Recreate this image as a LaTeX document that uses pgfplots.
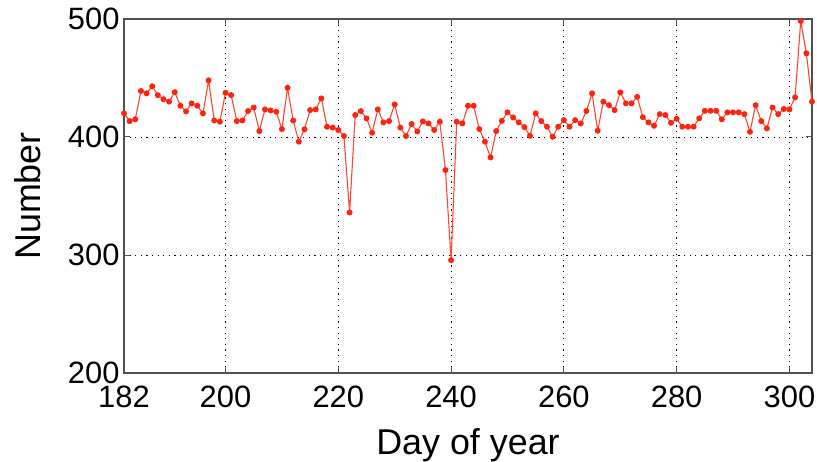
\documentclass[border=0pt]{standalone}
\usepackage{pgfplots}
\pgfplotsset{compat=1.18}
\usepackage{fontspec}
\setmainfont{Liberation Sans}
\definecolor{lred}{RGB}{255,70,50}
\definecolor{mred}{RGB}{255,35,15}
\definecolor{axgray}{RGB}{80,80,80}
\begin{document}
\begin{tikzpicture}
\begin{axis}[
  scale only axis, width=688bp, height=354bp,
  xmin=182, xmax=304, ymin=200, ymax=500,
  xtick={182,200,220,240,260,280,300},
  ytick={200,300,400,500},
  grid=major,
  major grid style={black, line width=0.9bp, dash pattern=on 1.2bp off 4.4bp},
  tick align=inside, major tick length=6bp,
  tick style={axgray, line width=1bp},
  axis line style={axgray, line width=1.2bp},
  /pgf/number format/assume math mode=true,
  /pgf/number format/1000 sep={},
  ticklabel style={font=\fontsize{31}{31}\selectfont},
  label style={font=\fontsize{36}{36}\selectfont},
  xlabel={Day of year}, ylabel={Number},
  xticklabel style={yshift=-9bp},
  yticklabel style={xshift=-1bp},
  xlabel style={yshift=-14bp},
  ylabel style={yshift=20bp},
]
\addplot[lred, line width=1.1bp, mark=*, mark size=2.4bp, mark options={mred, fill=mred, draw=mred}] coordinates {
(182,420) (183,413.5) (184,415) (185,439) (186,437) (187,443) (188,435.5) (189,432)
(190,430) (191,438) (192,426.5) (193,421.7) (194,428.5) (195,426.5) (196,420) (197,448)
(198,414) (199,413) (200,437.5) (201,435.5) (202,413.5) (203,414) (204,422) (205,425)
(206,405) (207,423.4) (208,422.5) (209,421.4) (210,406.7) (211,441.7) (212,414) (213,396)
(214,406.5) (215,422.8) (216,423.4) (217,432.7) (218,408.7) (219,408) (220,405.9) (221,400.8)
(222,336) (223,418.6) (224,422) (225,415.8) (226,403.6) (227,423.4) (228,412.4) (229,413.5)
(230,427.6) (231,408) (232,400.8) (233,411) (234,404.7) (235,413.2) (236,411.5) (237,405.9)
(238,413) (239,372) (240,295.6) (241,413) (242,411.5) (243,426.5) (244,426.5) (245,406.7)
(246,396) (247,382.7) (248,405) (249,413.7) (250,420.9) (251,416.6) (252,412.4) (253,408.4)
(254,401) (255,420) (256,413.5) (257,408.7) (258,400.2) (259,408.7) (260,414.3) (261,408.7)
(262,414.3) (263,411.5) (264,422) (265,437) (266,405.3) (267,429.9) (268,427) (269,422.8)
(270,437.8) (271,428.5) (272,428.5) (273,434) (274,416.8) (275,412.4) (276,409.5) (277,419.4)
(278,418.6) (279,412) (280,415.4) (281,408.7) (282,408.7) (283,408.7) (284,415.8) (285,422.2)
(286,422.2) (287,422.2) (288,415) (289,420.9) (290,420.9) (291,420.9) (292,419.4) (293,404.4)
(294,427) (295,413.5) (296,407.3) (297,425) (298,419.4) (299,423.7) (300,423.4) (301,433.6)
(302,498.3) (303,470.9) (304,429.9)
};
\end{axis}
\pgfresetboundingbox
\path (current axis.south west) ++(-124bp,-89bp) coordinate (bl);
\path (current axis.north east) ++(5bp,19bp) coordinate (tr);
\useasboundingbox (bl) rectangle (tr);
\end{tikzpicture}
\end{document}
